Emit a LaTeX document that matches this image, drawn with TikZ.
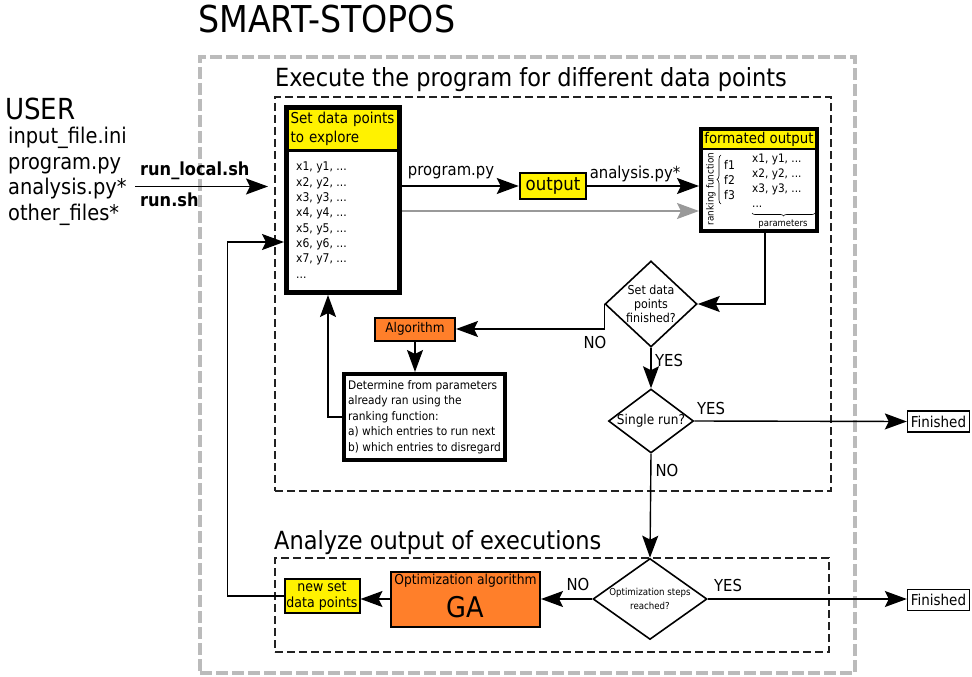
\documentclass[tikz,border=0pt]{standalone}
\usepackage{fontspec}
\setmainfont{DejaVu Sans Condensed}
\usetikzlibrary{arrows.meta,shapes.geometric,decorations.pathreplacing}
\definecolor{inkorange}{HTML}{FF7F2A}
\definecolor{boxgray}{HTML}{BBBBBB}
\definecolor{arrgray}{HTML}{999999}
\definecolor{dashblack}{HTML}{222222}
\newcommand{\fsz}[2]{\fontsize{#1}{#2}\selectfont}

\begin{document}
\begin{tikzpicture}[x=1pt,y=-1pt,
  every node/.style={inner sep=0pt},
  arr/.style={line width=1.4pt,-{Stealth[length=22pt,width=16pt,inset=4pt]}},
  area/.style={draw=dashblack,line width=2pt,dash pattern=on 8pt off 4pt},
  yesno/.style={font=\fsz{16.5}{18}},
  decision/.style={diamond,draw,line width=1.6pt},
  plainbox/.style={draw,line width=2pt},
  thickbox/.style={draw,line width=4pt}]
\useasboundingbox (0,0) rectangle (972,677);

% containers
\node[draw=boxgray,line width=4pt,dash pattern=on 12pt off 4pt,minimum width=655,minimum height=616] (smart) at (527.5,365) {};
\node[anchor=base west,font=\fsz{37}{42}] (title) at (198,33) {SMART-STOPOS};
\node[area,minimum width=556,minimum height=394] (execute) at (553,294) {};
\node[anchor=base west,font=\fsz{25}{28}] (executetitle) at (275,87) {Execute the program for different data points};
\node[area,minimum width=554,minimum height=94] (analyze) at (552,605) {};
\node[anchor=base west,font=\fsz{25}{28}] (analyzetitle) at (274,549) {Analyze output of executions};

% user side
\node[anchor=base west,font=\fsz{29}{32}] (user) at (5,119) {USER};
\node[anchor=north west,align=left,font=\fsz{21.6}{25.5}] (userfiles) at (8,127) {input\_file.ini\\program.py\\analysis.py*\\other\_files*};
\coordinate (runstart) at (135,186.5);
\coordinate (runend) at (268,186.5);
\draw[arr] (runstart) -- (runend);
\node[anchor=base west,font=\bfseries\fsz{18}{20}] (runlocal) at (140,175) {run\_local.sh};
\node[anchor=base west,font=\bfseries\fsz{18}{20}] (runsh) at (140,206) {run.sh};

% data points to explore
\node[fill=yellow,minimum width=113,minimum height=43,text width=105,align=left,font=\fsz{15}{19}] (explorehead) at (343,129) {Set data points\\to explore};
\node[draw,line width=5pt,minimum width=113,minimum height=185] (explore) at (343,200) {};
\draw[line width=3pt] (explorehead.south west) -- (explorehead.south east);
\node[anchor=north west,align=left,font=\fsz{12}{15.3}] (explorelist) at (296,162) {x1, y1, ...\\x2, y2, ...\\x3, y3, ...\\x4, y4, ...\\x5, y5, ...\\x6, y6, ...\\x7, y7, ...\\...};

\node[plainbox,line width=2.5pt,fill=yellow,minimum width=66,minimum height=26,font=\fsz{18.4}{20}] (output) at (553,186) {output};

% formated output
\node[fill=yellow,minimum width=116,minimum height=20,font=\fsz{14.8}{16}] (formathead) at (759,139) {formated output};
\node[draw,line width=4pt,minimum width=116,minimum height=102] (formatted) at (759,180) {};
\draw[line width=2pt] (formathead.south west) -- (formathead.south east);
\node[rotate=90,font=\fsz{9.8}{11}] (ranking) at (711,189) {ranking function};
\draw[decorate,decoration={brace,amplitude=4pt},line width=0.6pt] (721,204) -- (721,155);
\node[anchor=north west,align=left,font=\fsz{12}{15}] (ffuncs) at (724,160) {f1\\f2\\f3};
\node[anchor=north west,align=left,font=\fsz{11.7}{15}] (params) at (752,154) {x1, y1, ...\\x2, y2, ...\\x3, y3, ...\\...};
\draw[decorate,decoration={brace,amplitude=3pt},line width=0.6pt] (815,213) -- (752,213);
\node[font=\fsz{9.4}{10}] (paramslabel) at (783,224) {parameters};

% decisions
\node[decision,minimum width=92,minimum height=86] (setq) at (651,304) {};
\node[align=center,font=\fsz{12.3}{14}] (setqtext) at (651,304) {Set data\\points\\finished?};
\node[decision,minimum width=85,minimum height=64] (single) at (651,421) {};
\node[font=\fsz{13.5}{15}] (singletext) at (651,421) {Single run?};
\node[decision,minimum width=114,minimum height=81] (optq) at (650,599) {};
\node[align=center,font=\fsz{9.6}{14}] (optqtext) at (650,599) {Optimization steps\\reached?};

\node[plainbox,fill=inkorange,minimum width=80,minimum height=23,font=\fsz{13.4}{15}] (algo) at (415,329) {Algorithm};
\node[thickbox,minimum width=161,minimum height=86,align=left,font=\fsz{11.8}{15.4}] (determine) at (424.5,417) {Determine from parameters\\already ran using the\\ranking function:\\a) which entries to run next\\b) which entries to disregard};

\node[plainbox,fill=inkorange,minimum width=149,minimum height=55] (ga) at (465.5,599) {};
\node[font=\fsz{13.7}{16}] (gatitle) at (465.5,581) {Optimization algorithm};
\node[font=\fsz{28.5}{30}] (galabel) at (465.5,607) {GA};
\node[plainbox,fill=yellow,minimum width=75,minimum height=34,align=center,font=\fsz{14}{16}] (newset) at (322,596) {new set\\data points};

\node[draw,line width=1.3pt,minimum width=62,minimum height=21,font=\fsz{15}{16}] (finone) at (938.5,421.5) {Finished};
\node[draw,line width=1.3pt,minimum width=62,minimum height=21,font=\fsz{15}{16}] (fintwo) at (938.5,600) {Finished};

% connectors
\draw[arr] (output -| explore.east) -- (output.west);
\node[font=\fsz{16.5}{18}] (programlabel) at (451,173) {program.py};
\draw[arr] (output.east) -- (output -| formatted.west);
\node[font=\fsz{16.5}{18}] (analysislabel) at (635,174) {analysis.py*};
\draw[arr,arrgray] ([yshift=-11pt]explore.east) -- ([yshift=-11pt]explore.east -| formatted.west);
\draw[arr] ([xshift=6pt]formatted.south) |- (setq.east);
\draw[arr] (setq.west) |- (algo.east);
\node[yesno] (noone) at (595,342) {NO};
\draw[arr] (algo.south) -- (algo.south |- determine.north);
\draw[arr] (determine.west) -| ([xshift=-15pt]explore.south);
\draw[arr] (setq.south) -- (single.north);
\node[yesno] (yesone) at (669,360) {YES};
\draw[arr] (single.east) -- (finone.west);
\node[yesno] (yestwo) at (711,408) {YES};
\draw[arr] (single.south) -- (optq.north);
\node[yesno] (notwo) at (667,470) {NO};
\draw[arr] (optq.east) -- (optq.east -| fintwo.west);
\node[yesno] (yesthree) at (728,585) {YES};
\draw[arr] (optq.west) -- (optq.west -| ga.east);
\node[yesno] (nothree) at (578,584) {NO};
\draw[arr] (ga.west) -- (ga.west -| newset.east);
\draw[arr] (newset.west) -- ++(-56,0) |- ([yshift=-42pt]explore.west);
\end{tikzpicture}
\end{document}
